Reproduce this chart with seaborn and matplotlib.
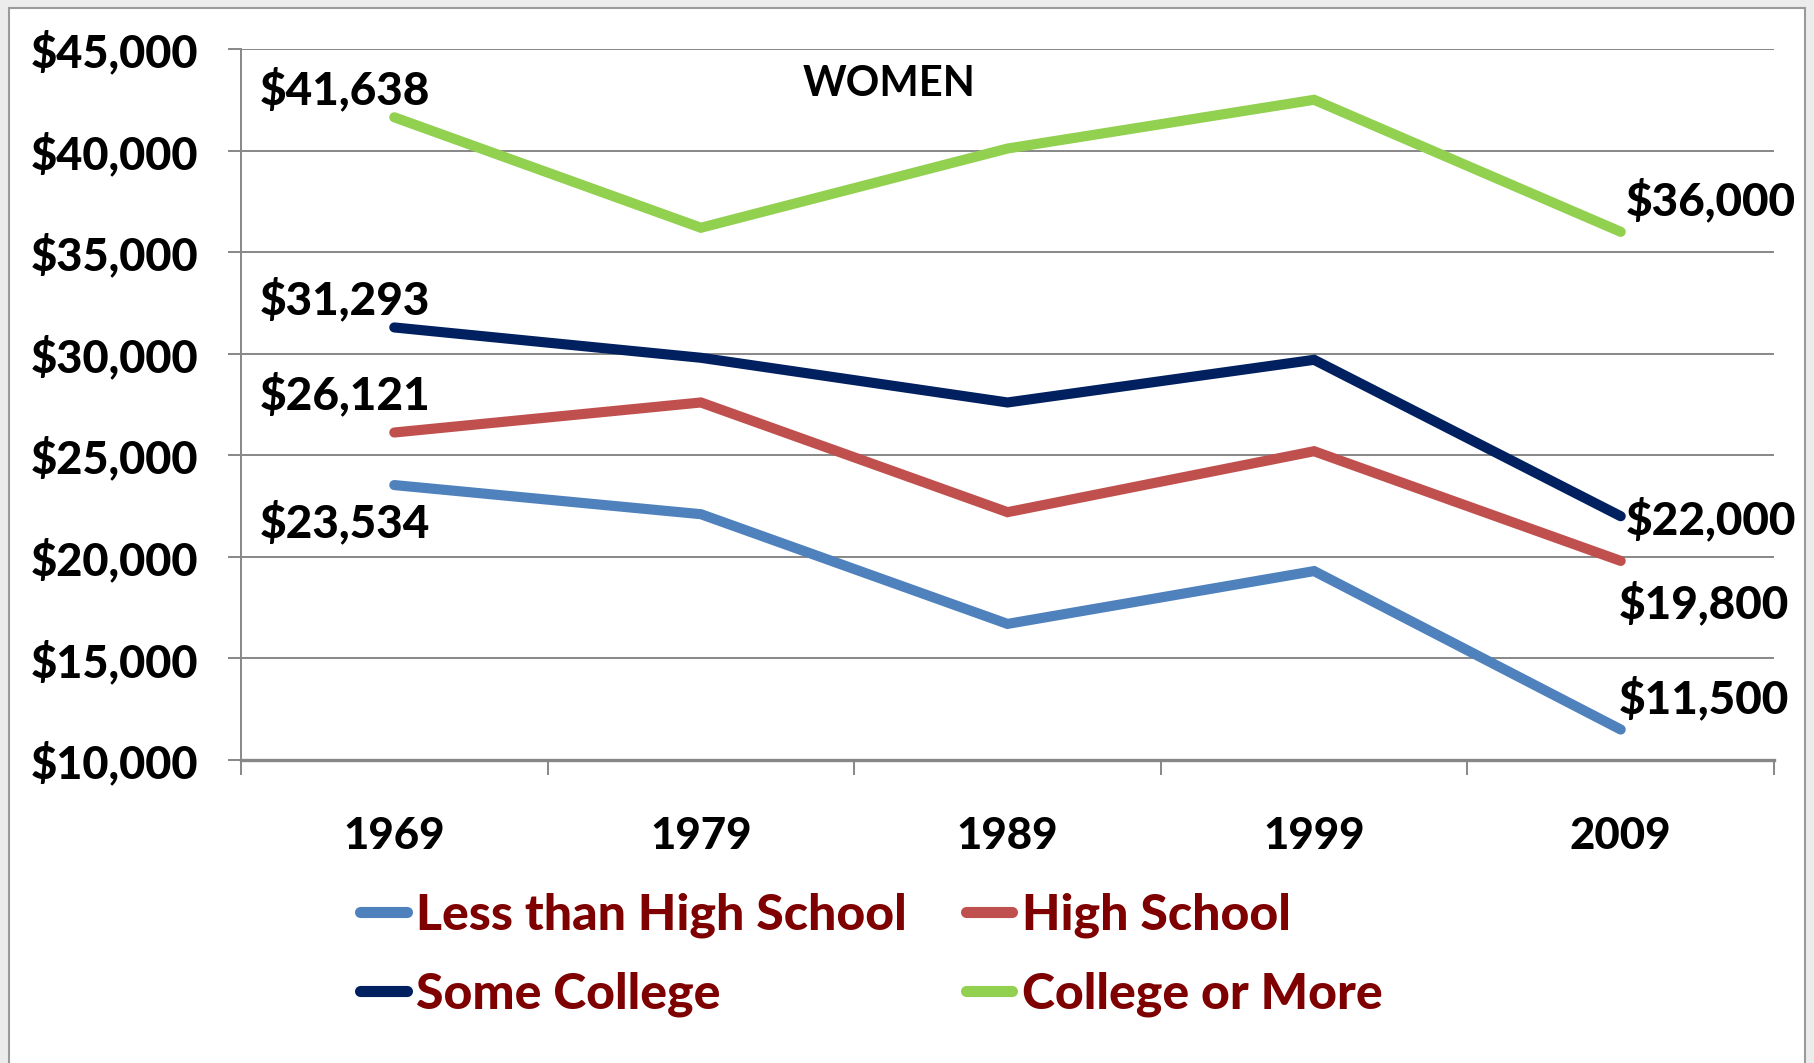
import matplotlib
matplotlib.use("Agg")
import matplotlib.pyplot as plt
import matplotlib.patches as mpatches
from matplotlib.ticker import FixedLocator
import seaborn as sns
import pandas as pd

# ---- data ----
years = ["1969", "1979", "1989", "1999", "2009"]
less_than_hs = [23534, 22100, 16700, 19300, 11500]
high_school = [26121, 27600, 22200, 25200, 19800]
some_college = [31293, 29800, 27600, 29700, 22000]
college_more = [41638, 36200, 40100, 42500, 36000]
series_names = ["Less than High School", "High School", "Some College", "College or More"]
series_values = [less_than_hs, high_school, some_college, college_more]
colors = ["#4F81BD", "#C0504D", "#002060", "#92D050"]
y_ticks = [10000, 15000, 20000, 25000, 30000, 35000, 40000, 45000]
title_text = "WOMEN"

# labels: (series index, year index, dx in category units, y position)
label_specs = [
    (3, 0, -0.44, 43000), (2, 0, -0.44, 32650), (1, 0, -0.44, 27980), (0, 0, -0.44, 21670),
    (3, 4, 0.015, 37500), (2, 4, 0.015, 21840), (1, 4, -0.005, 17680), (0, 4, -0.005, 13020),
]

rows = []
for name, vals in zip(series_names, series_values):
    for i, v in enumerate(vals):
        rows.append({"pos": i, "value": v, "series": name})
df = pd.DataFrame(rows)

sns.set_theme(style="white")
FONT = ["Lato", "DejaVu Sans"]
plt.rcParams["font.family"] = FONT
WEIGHT = "black"

W, H = 1814, 1063
fig = plt.figure(figsize=(W / 100, H / 100), dpi=100, facecolor="#ececec")

# white chart frame
frame = mpatches.Rectangle((9 / W, -0.01), (1805 - 9) / W, 1.01 - 8 / H, transform=fig.transFigure,
                           facecolor="white", edgecolor="#9a9a9a", linewidth=1.5, zorder=-10)
fig.patches.append(frame)

ax = fig.add_axes([241 / W, 1 - 760 / H, (1774 - 241) / W, (760 - 49) / H])
ax.set_facecolor("none")
ax.set_zorder(2)

sns.lineplot(data=df, x="pos", y="value", hue="series", palette=colors, hue_order=series_names,
             linewidth=7.3, legend=False, ax=ax, solid_capstyle="round", solid_joinstyle="miter")

ax.set_xlim(-0.5, 4.5)
ax.set_ylim(10000, 45000)
ax.set_xlabel("")
ax.set_ylabel("")

grid_c = "#878787"
ax.set_yticks(y_ticks)
ax.set_yticklabels(["${:,}".format(t) for t in y_ticks])
ax.yaxis.grid(True, color=grid_c, linewidth=1.4)
ax.set_axisbelow(True)
ax.tick_params(axis="y", length=9.5, width=1.4, color=grid_c, pad=21, labelsize=32.5, left=True)

ax.set_xticks(range(len(years)))
ax.set_xticklabels(years)
ax.xaxis.set_minor_locator(FixedLocator([i - 0.5 for i in range(len(years) + 1)]))
ax.tick_params(axis="x", which="major", length=0, pad=40, labelsize=31.5)
ax.tick_params(axis="x", which="minor", length=11, width=1.4, color=grid_c, bottom=True)

for lab in ax.get_xticklabels() + ax.get_yticklabels():
    lab.set_fontweight(WEIGHT)
    lab.set_color("black")

for s in ["top", "right"]:
    ax.spines[s].set_visible(False)
ax.spines["left"].set_color(grid_c)
ax.spines["left"].set_linewidth(1.4)
ax.spines["bottom"].set_color(grid_c)
ax.spines["bottom"].set_linewidth(2.4)

# data labels
for si, yi, dx, ypos in label_specs:
    v = series_values[si][yi]
    ax.text(yi + dx, ypos, "${:,}".format(v), ha="left", va="center", fontsize=33,
            fontweight=WEIGHT, color="black")

ax.text(0.4226, 0.951, title_text, transform=ax.transAxes, ha="center", va="center",
        fontsize=30, fontweight="bold", color="black")

# legend
handles = ax.get_lines()[:4]
order = [0, 2, 1, 3]
leg = fig.legend([handles[i] for i in order], [series_names[i] for i in order], ncol=2,
                 loc="upper left", bbox_to_anchor=(360 / W, 1 - 892 / H), frameon=False,
                 fontsize=36, labelcolor="#7F0000", handlelength=0.93, handletextpad=0.2,
                 columnspacing=1.17, labelspacing=0.68, borderaxespad=0, borderpad=0)
for t in leg.get_texts():
    t.set_fontweight(WEIGHT)
for lh in leg.get_lines():
    lh.set_linewidth(8)
    lh.set_solid_capstyle("round")

fig.savefig("out.png", dpi=100, facecolor=fig.get_facecolor())
